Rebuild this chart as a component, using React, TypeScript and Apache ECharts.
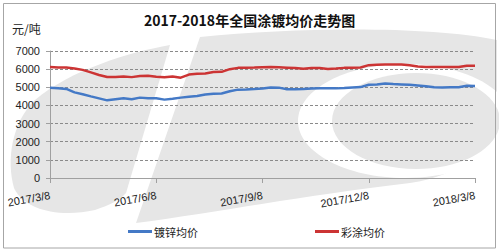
import React, { useEffect, useRef } from "react";
import * as echarts from "echarts";

const title = "2017-2018年全国涂镀均价走势图";
const unitLabel = "元/吨";
const tickLabels = ["2017/3/8", "2017/6/8", "2017/9/8", "2017/12/8", "2018/3/8"];
const seriesNames = ["镀锌均价", "彩涂均价"];

// weekly samples from 2017/3/8 to 2018/3/8
const galvanized = [
  4980, 4950, 4910, 4720, 4620, 4500, 4390, 4280, 4340, 4400, 4340, 4430, 4400,
  4390, 4320, 4370, 4430, 4480, 4520, 4600, 4640, 4660, 4780, 4870, 4880, 4900,
  4930, 4990, 4980, 4890, 4890, 4900, 4930, 4940, 4940, 4940, 4960, 4990, 5010,
  5140, 5160, 5210, 5180, 5160, 5140, 5100, 5060, 5000, 4990, 5000, 5000, 5080,
  5070,
];
const colorCoated = [
  6120, 6090, 6085, 6040, 5960, 5820, 5680, 5570, 5570, 5600, 5560, 5620, 5640,
  5580, 5550, 5600, 5530, 5700, 5740, 5760, 5840, 5850, 6000, 6070, 6080, 6090,
  6110, 6120, 6100, 6080, 6060, 6020, 6060, 6060, 6010, 6030, 6070, 6070, 6090,
  6220, 6240, 6250, 6250, 6250, 6220, 6140, 6120, 6120, 6120, 6120, 6120, 6190,
  6190,
];

function buildCategories(count: number): string[] {
  const out: string[] = [];
  const start = new Date(2017, 2, 8);
  for (let i = 0; i < count; i++) {
    const d = new Date(start.getTime() + i * 7 * 86400000);
    out.push(`${d.getFullYear()}/${d.getMonth() + 1}/${d.getDate()}`);
  }
  return out;
}
const categories = buildCategories(galvanized.length);

const WM = "#e6e6e6";
const LEFT_D =
  "M170,45 C130,52 70,70 35,100 C12,122 6,160 14,188 C24,210 60,218 95,210 C110,205 120,200 126,193 Z";
const C_D =
  "M200,37 C300,27 430,26 497,40 L497,105 C490,150 460,176 410,183 C300,196 220,212 136,223 Z";

let registered = false;
function registerShapes() {
  if (registered) return;
  registered = true;
  echarts.graphic.registerShape("wmLeft", echarts.graphic.extendPath(LEFT_D, {}) as any);
  echarts.graphic.registerShape("wmC", echarts.graphic.extendPath(C_D, {}) as any);
}

export default function App() {
  const ref = useRef<HTMLDivElement>(null);
  useEffect(() => {
    document.body.style.margin = "0";
    registerShapes();
    const chart = echarts.init(ref.current!, undefined, { renderer: "svg" });
    const font = "'Liberation Sans', Arial, sans-serif";
    const cjk = "'Noto Sans CJK SC', 'Liberation Sans', sans-serif";
    chart.setOption({
      animation: false,
      backgroundColor: "#ffffff",
      title: {
        text: title,
        left: "center",
        top: 8,
        textStyle: { fontSize: 14, fontWeight: "bold", color: "#111", fontFamily: cjk },
      },
      graphic: [
        { type: "wmLeft", x: 0, y: 0, z: -1, silent: true, style: { fill: WM } },
        { type: "wmC", x: 0, y: 0, z: -1, silent: true, style: { fill: WM } },
        { type: "ellipse", z: -1, silent: true, shape: { cx: 405, cy: 121, rx: 107, ry: 57 }, style: { fill: "#ffffff" } },
        { type: "ellipse", z: -1, silent: true, shape: { cx: 416, cy: 121, rx: 84, ry: 48 }, style: { fill: WM } },
        {
          type: "rect",
          z: 10,
          silent: true,
          shape: { x: 3.5, y: 3.5, width: 492, height: 244.5 },
          style: { fill: "none", stroke: "#a6a6a6", lineWidth: 1 },
        },
        {
          type: "text",
          left: 12,
          top: 22,
          z: 10,
          style: { text: unitLabel, fontSize: 12, fill: "#222", fontFamily: cjk },
        },
      ],
      legend: {
        left: 123,
        top: 221,
        itemGap: 117,
        itemWidth: 24,
        itemHeight: 3,
        icon: "rect",
        textStyle: { fontSize: 11, color: "#222", fontFamily: cjk, padding: [0, 0, 0, -3] },
        data: seriesNames,
      },
      grid: { left: 50, right: 24, top: 51, bottom: 74 },
      xAxis: {
        type: "category",
        data: categories,
        boundaryGap: false,
        axisLine: { lineStyle: { color: "#a0a0a0" } },
        axisTick: { interval: 12, length: 5, lineStyle: { color: "#a0a0a0" } },
        axisLabel: {
          interval: 12,
          rotate: 10,
          margin: 17,
          fontSize: 11,
          color: "#222",
          fontFamily: font,
          formatter: (_v: string, i: number) => tickLabels[Math.round(i / 13)] ?? "",
        },
        splitLine: { show: false },
      },
      yAxis: {
        type: "value",
        min: 0,
        max: 7000,
        interval: 1000,
        axisLine: { show: true, lineStyle: { color: "#a0a0a0" } },
        axisTick: { show: true, length: 4, lineStyle: { color: "#a0a0a0" } },
        axisLabel: {
          fontSize: 11,
          color: "#222",
          margin: 10,
          fontFamily: font,
          formatter: (v: number) => String(v),
        },
        splitLine: { lineStyle: { color: "#8a8a8a", type: [3, 2], width: 1 } },
      },
      series: [
        {
          name: seriesNames[0],
          type: "line",
          data: galvanized,
          showSymbol: false,
          symbol: "none",
          lineStyle: { color: "#4479c6", width: 2.5 },
          itemStyle: { color: "#4479c6" },
        },
        {
          name: seriesNames[1],
          type: "line",
          data: colorCoated,
          showSymbol: false,
          symbol: "none",
          lineStyle: { color: "#cc3434", width: 2.5 },
          itemStyle: { color: "#cc3434" },
        },
      ],
    });
    return () => chart.dispose();
  }, []);
  return <div ref={ref} style={{ width: 499, height: 252 }} />;
}
